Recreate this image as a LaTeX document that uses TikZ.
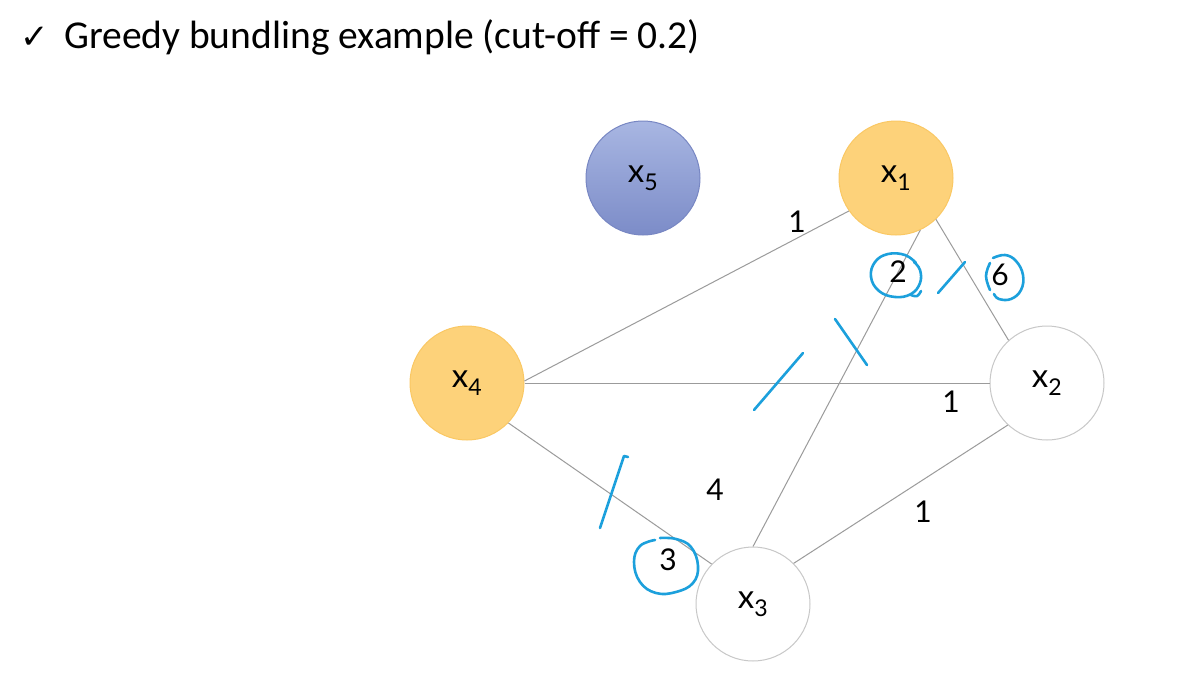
\documentclass[tikz,border=0pt]{standalone}
\usepackage{fontspec}
\setmainfont{Carlito}
\newfontfamily\lblfont{Lato}
\newfontfamily\symfont{DejaVu Sans}
\definecolor{edgegray}{RGB}{155,155,155}
\definecolor{inkblue}{RGB}{28,160,220}
\definecolor{bluetop}{RGB}{168,182,226}
\definecolor{bluebot}{RGB}{124,140,200}
\definecolor{blueedge}{RGB}{120,135,195}
\definecolor{orfill}{RGB}{253,210,122}
\definecolor{oredge}{RGB}{250,200,100}
\definecolor{whiteedge}{RGB}{200,200,200}
\begin{document}
\begin{tikzpicture}[x=1pt,y=-1pt,
  vtx/.style={circle,minimum size=114pt,inner sep=0pt,line width=1pt,font=\lblfont\fontsize{33}{33}\selectfont},
  bluevtx/.style={vtx,draw=blueedge,top color=bluetop,bottom color=bluebot},
  orvtx/.style={vtx,draw=oredge,fill=orfill},
  whvtx/.style={vtx,draw=whiteedge,fill=white},
  edge/.style={draw=edgegray,line width=1pt},
  wlbl/.style={font=\lblfont\fontsize{30}{30}\selectfont,inner sep=0pt},
  ink/.style={draw=inkblue,line width=2.6pt,line cap=round,line join=round}]
\useasboundingbox (0,0) rectangle (1184,681);
\fill[white] (0,0) rectangle (1184,681);
\node[anchor=west,inner sep=0pt] (check) at (20,38) {\symfont\fontsize{34}{34}\selectfont ✓};
\node[anchor=west,inner sep=0pt] (title) at (64,37) {\fontsize{39.5}{40}\selectfont Greedy bundling example (cut-off = 0.2)};
\node[bluevtx] (x5) at (643,178) {x\textsubscript{5}};
\node[orvtx] (x1) at (896,178) {x\textsubscript{1}};
\node[orvtx] (x4) at (467,383) {x\textsubscript{4}};
\node[whvtx] (x2) at (1047,383) {x\textsubscript{2}};
\node[whvtx] (x3) at (753,604) {x\textsubscript{3}};
\draw[edge] (x4.2) -- (x1.215);
\draw[edge] (x4.0) -- (x2.180);
\draw[edge] (x4.316) -- (x3.136);
\draw[edge] (x1.295) -- (x3.90);
\draw[edge] (x1.314) -- (x2.132);
\draw[edge] (x3.45) -- (x2.227);
\node[wlbl] (l41) at (797,222) {1};
\node[wlbl] (l13) at (898,272) {2};
\node[wlbl] (l12) at (1000,275) {6};
\node[wlbl] (l42) at (951,402) {1};
\node[wlbl] (l43b) at (715,490) {4};
\node[wlbl] (l32) at (923,512) {1};
\node[wlbl] (l43) at (668,560) {3};
% hand-drawn marks
\draw[ink] plot[smooth,tension=0.7] coordinates {(916,263) (905,255) (888,254) (875,262) (871,277) (879,291) (895,297) (911,294) (920,283) (920,270) (914,262)};
\draw[ink] plot[smooth,tension=0.7] coordinates {(911,295) (917,296) (921,291)};
\draw[ink] plot[smooth,tension=0.7] coordinates {(993,258) (1005,255) (1016,261) (1023,275) (1021,290) (1011,299) (999,299) (994,294)};
\draw[ink] plot[smooth,tension=0.7] coordinates {(990,263) (986,276) (990,290)};
\draw[ink] plot[smooth,tension=0.7] coordinates {(655,540) (640,546) (634,562) (640,582) (656,593) (676,592) (693,583) (698,566) (691,547) (676,539) (660,538)};
\draw[ink] (938,293) -- (965,262);
\draw[ink] (754,410) -- (803,353);
\draw[ink] (835,319) -- (867,365);
\draw[ink] (600,528) -- (624,456) -- (628,457);
\end{tikzpicture}
\end{document}
